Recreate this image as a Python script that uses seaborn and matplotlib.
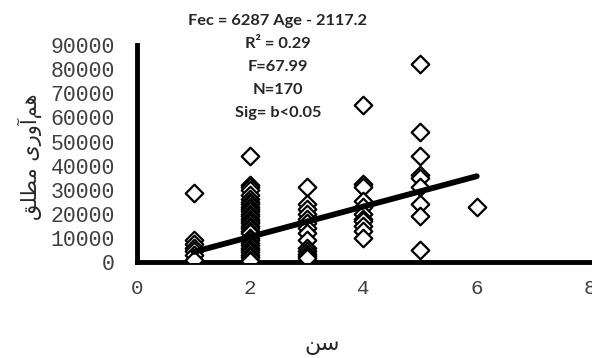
import numpy as np
import pandas as pd
import matplotlib
matplotlib.use('Agg')
import matplotlib.pyplot as plt
import seaborn as sns

# ages (x) and absolute fecundity (y)
age_1 = [28500, 9000, 7500, 6000, 4500, 3000, 1000]
age_2 = [44000, 32000, 31000, 30000, 28000, 26000, 25000, 24000, 23000, 22000,
         21000, 20000, 19000, 18000, 17000, 16000, 15000, 14000, 13000, 12000,
         10000, 9000, 8000, 7000, 6000, 5000, 4000, 3000, 2000, 1000, 300]
age_3 = [31000, 24000, 22000, 20000, 18000, 16000, 14000, 12000, 9000, 6000,
         4500, 3500, 2500, 1500]
age_4 = [65000, 32500, 31000, 25500, 23000, 20000, 18000, 17000, 15000, 13000, 10000]
age_5 = [82000, 54000, 44000, 36000, 35000, 31000, 24000, 19000, 5000]
age_6 = [23000]

ages = [1, 2, 3, 4, 5, 6]
fec_by_age = [age_1, age_2, age_3, age_4, age_5, age_6]

slope = 6287
intercept = -2117.2

eq_lines = ["Fec = 6287 Age - 2117.2", "R\u00b2 = 0.29", "F=67.99", "N=170", "Sig= b<0.05"]

x_ticks = [0, 2, 4, 6, 8]
y_ticks = [0, 10000, 20000, 30000, 40000, 50000, 60000, 70000, 80000, 90000]

# Persian labels in presentation forms, visual order (matplotlib does no shaping)
x_label = "\uFEE6\uFEB3"  # سن
y_label = "\uFED6\uFEE0\uFEC4\uFEE3 \uFEEF\uFEAD\uFEED\uFE81\uFEE2\uFEEB"  # هم‌آوری مطلق

df = pd.DataFrame({
    'age': [a for a, vals in zip(ages, fec_by_age) for _ in vals],
    'fec': [v for vals in fec_by_age for v in vals],
})

sns.set_style('white')
fig = plt.figure(figsize=(5.92, 3.58), dpi=100)
ax = fig.add_axes([0.2314, 0.268, 0.7652, 0.606])

sns.scatterplot(data=df, x='age', y='fec', ax=ax, marker='D', s=80,
                facecolor='white', edgecolor='black', linewidth=1.6, zorder=3)

line_x = np.array([min(ages), max(ages)])
sns.lineplot(x=line_x, y=slope * line_x + intercept, ax=ax, color='black',
             linewidth=4.2, zorder=4)

ax.set_xlim(0, 8)
ax.set_ylim(0, 90000)
ax.set_xticks(x_ticks)
ax.set_yticks(y_ticks)
ax.set_xticklabels([str(t) for t in x_ticks], family='Liberation Mono', fontsize=15, color='#404040')
ax.set_yticklabels([str(t) for t in y_ticks], family='Liberation Mono', fontsize=15.5, color='#404040')
ax.tick_params(axis='y', length=0, pad=16)
ax.tick_params(axis='x', length=0, pad=12)

for s in ['top', 'right']:
    ax.spines[s].set_visible(False)
for s in ['left', 'bottom']:
    ax.spines[s].set_linewidth(3.5)
    ax.spines[s].set_color('black')

ax.set_xlabel('')
ax.set_ylabel('')
fig.text(322 / 592, 1 - 345 / 358, x_label, ha='center', va='center',
         family='DejaVu Sans', fontsize=16)
fig.text(30 / 592, 1 - 157 / 358, y_label, ha='center', va='center', rotation=90,
         family='DejaVu Sans', fontsize=15)

for i, line in enumerate(eq_lines):
    fig.text(278 / 592, 1 - (21 + 23 * i) / 358, line, ha='center', va='center',
             family='Lato', fontweight='bold', fontsize=11.8)

fig.savefig('out.png', dpi=100)
